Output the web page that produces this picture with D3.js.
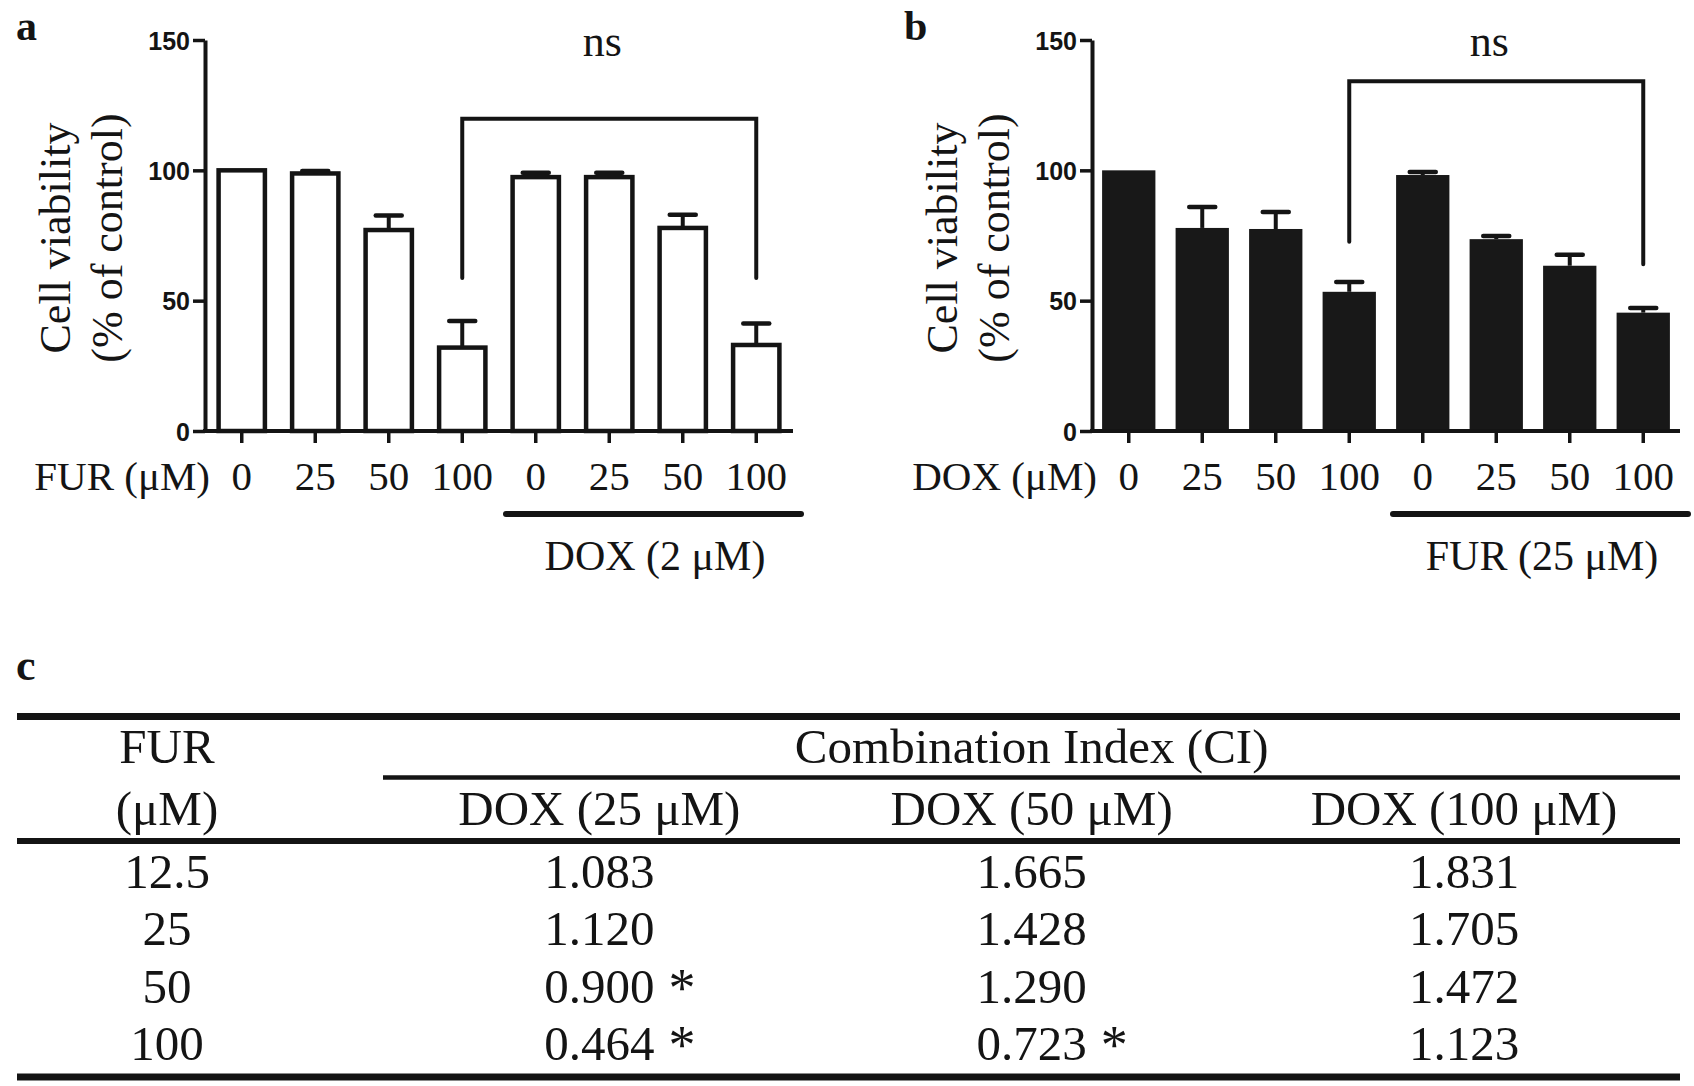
<!DOCTYPE html>
<html><head><meta charset="utf-8">
<script src="https://cdn.jsdelivr.net/npm/d3@7"></script>
<style>body{margin:0;background:#fff} svg{display:block}</style>
</head><body>
<svg id="chart" width="1694" height="1086"></svg>
<script>
// ---------- data ----------
const tickLabels = ["0", "25", "50", "100", "0", "25", "50", "100"];
const viabilityA = [100, 98.8, 77.1, 32.0, 97.4, 97.4, 77.9, 33.0];
const errorA     = [0, 0.9, 5.6, 10.2, 1.7, 1.7, 5.1, 8.2];
const viabilityB = [100, 77.9, 77.5, 53.4, 98.2, 73.6, 63.4, 45.4];
const errorB     = [0, 8.0, 6.5, 3.8, 1.2, 1.2, 4.2, 1.8];
const yTicks = [0, 50, 100, 150];
const bracketA = [3, 7, 119.8, 58.7, 58.7];   // from bar, to bar, top value, left leg end, right leg end
const bracketB = [3, 7, 134.2, 72.6, 64.0];

const tableColumns = ["FUR", "DOX25", "DOX50", "DOX100"];
const tableColumnHeads = ["", "DOX (25 μM)", "DOX (50 μM)", "DOX (100 μM)"];
const furConc = ["12.5", "25", "50", "100"];
const ciDox25  = ["1.083", "1.120", "0.900", "0.464"];
const ciDox50  = ["1.665", "1.428", "1.290", "0.723"];
const ciDox100 = ["1.831", "1.705", "1.472", "1.123"];
const sig25  = [false, false, true, true];
const sig50  = [false, false, false, true];
const sig100 = [false, false, false, false];

// ---------- drawing ----------
const svg = d3.select("#chart");
const INK = "#141414";
const SERIF = "'Liberation Serif','Times New Roman',serif";
const SANS = "'Liberation Sans',Arial,sans-serif";

const y = d3.scaleLinear().domain([0, 150]).range([431, 40]);

function panel(off, values, errors, filled, letter, xName, groupName, bracket) {
  const g = svg.append("g");
  const x = d3.scaleBand().domain(d3.range(values.length))
    .range([205 + off, 793 + off]).paddingInner(0.37).paddingOuter(0.185);
  const bw = x.bandwidth();

  // bars
  if (filled) {
    g.selectAll("rect.bar").data(values).join("rect").attr("class", "bar")
      .attr("x", (d, i) => x(i) - 3.5).attr("width", bw + 7)
      .attr("y", d => y(d)).attr("height", d => y(0) - y(d))
      .attr("fill", "#181818");
  } else {
    g.selectAll("rect.bar").data(values).join("rect").attr("class", "bar")
      .attr("x", (d, i) => x(i)).attr("width", bw)
      .attr("y", d => y(d)).attr("height", d => y(0) - y(d))
      .attr("fill", "#fff").attr("stroke", INK).attr("stroke-width", 4.5);
  }
  // error bars
  const eb = g.selectAll("g.err").data(values.map((v, i) => ({v, e: errors[i], i})).filter(d => d.e > 0))
    .join("g").attr("class", "err");
  eb.append("line")
    .attr("x1", d => x(d.i) + bw / 2).attr("x2", d => x(d.i) + bw / 2)
    .attr("y1", d => y(d.v)).attr("y2", d => y(d.v + d.e))
    .attr("stroke", INK).attr("stroke-width", 4);
  eb.append("line")
    .attr("x1", d => x(d.i) + bw / 2 - 13).attr("x2", d => x(d.i) + bw / 2 + 13)
    .attr("y1", d => y(d.v + d.e)).attr("y2", d => y(d.v + d.e))
    .attr("stroke", INK).attr("stroke-width", 4.5).attr("stroke-linecap", "round");

  // axes
  const ya = g.append("g").attr("transform", `translate(${205 + off},0)`)
    .call(d3.axisLeft(y).tickValues(yTicks).tickSize(12).tickSizeOuter(0).tickPadding(3));
  ya.select(".domain").attr("stroke", INK).attr("stroke-width", 4);
  ya.selectAll(".tick line").attr("stroke", INK).attr("stroke-width", 3.5);
  ya.selectAll(".tick text").attr("fill", INK).style("font-family", SANS)
    .style("font-weight", "bold").style("font-size", "25px").attr("dy", "0.36em");

  const xa = g.append("g").attr("transform", `translate(0,${y(0)})`)
    .call(d3.axisBottom(x).tickSize(12).tickSizeOuter(0).tickFormat(i => tickLabels[i]));
  xa.select(".domain").attr("stroke", INK).attr("stroke-width", 4)
    .attr("d", `M${205 + off - 2},0H${793 + off}`);
  xa.selectAll(".tick line").attr("stroke", INK).attr("stroke-width", 3.5);
  xa.selectAll(".tick text").attr("fill", INK)
    .attr("y", 59).attr("dy", 0)
    .style("font-family", SERIF).style("font-size", "41px");

  // x-axis name
  g.append("text").attr("x", 210 + off).attr("y", 490).attr("text-anchor", "end")
    .style("font-family", SERIF).style("font-size", "41px").attr("fill", INK).text(xName);

  // group underline + label
  g.append("line").attr("x1", 506 + off).attr("x2", 801 + off).attr("y1", 514).attr("y2", 514)
    .attr("stroke", INK).attr("stroke-width", 6).attr("stroke-linecap", "round");
  g.append("text").attr("x", 655 + off).attr("y", 570).attr("text-anchor", "middle")
    .style("font-family", SERIF).style("font-size", "42px").attr("fill", INK).text(groupName);

  // y title
  const yt = g.append("g").attr("transform", `translate(0,238) rotate(-90)`);
  yt.append("text").attr("x", 0).attr("y", 70 + off).attr("text-anchor", "middle")
    .style("font-family", SERIF).style("font-size", "44px").attr("fill", INK).text("Cell viability");
  yt.append("text").attr("x", 0).attr("y", 122 + off).attr("text-anchor", "middle")
    .style("font-family", SERIF).style("font-size", "44px").attr("fill", INK).text("(% of control)");

  // bracket
  const [b0, b1, bt, bl, br] = bracket;
  const xL = x(b0) + bw / 2, xR = x(b1) + bw / 2;
  g.append("path").attr("d", `M${xL},${y(bl)}V${y(bt)}H${xR}V${y(br)}`)
    .attr("fill", "none").attr("stroke", INK).attr("stroke-width", 4)
    .attr("stroke-linecap", "round").attr("stroke-linejoin", "miter");
  g.append("text").attr("x", (xL + xR) / 2 - 7).attr("y", 56).attr("text-anchor", "middle")
    .style("font-family", SERIF).style("font-size", "44px").attr("fill", INK).text("ns");

  // panel letter
  g.append("text").attr("x", 16 + (off ? 888 : 0)).attr("y", 40)
    .style("font-family", SERIF).style("font-weight", "bold").style("font-size", "42px")
    .attr("fill", INK).text(letter);
}

panel(0, viabilityA, errorA, false, "a", "FUR (μM)", "DOX (2 μM)", bracketA);
panel(887, viabilityB, errorB, true, "b", "DOX (μM)", "FUR (25 μM)", bracketB);

// ---------- table (c) ----------
const t = svg.append("g");
t.append("text").attr("x", 16).attr("y", 680)
  .style("font-family", SERIF).style("font-weight", "bold").style("font-size", "44px")
  .attr("fill", INK).text("c");

const cx = d3.scalePoint().domain(tableColumns).range([167, 1464]);
const ry = d3.scalePoint().domain(furConc).range([888, 1060]);
const tableFont = "49px";

function rule(x1, x2, yy, w) {
  t.append("line").attr("x1", x1).attr("x2", x2).attr("y1", yy).attr("y2", yy)
    .attr("stroke", INK).attr("stroke-width", w);
}
rule(17, 1680, 716.5, 7);
rule(383, 1680, 777.5, 4.5);
rule(17, 1680, 841, 6);
rule(17, 1680, 1077, 7);

function ttext(xx, yy, s) {
  return t.append("text").attr("x", xx).attr("y", yy).attr("text-anchor", "middle")
    .style("font-family", SERIF).style("font-size", tableFont).attr("fill", INK).text(s);
}
ttext(cx("FUR"), 763, "FUR");
ttext(cx("FUR"), 825, "(μM)");
ttext(cx("DOX50"), 763, "Combination Index (CI)");
tableColumns.slice(1).forEach((c, i) => ttext(cx(c), 825, tableColumnHeads[i + 1]));

const colData = [[ciDox25, sig25, "DOX25"], [ciDox50, sig50, "DOX50"], [ciDox100, sig100, "DOX100"]];
furConc.forEach((f, r) => {
  ttext(cx("FUR"), ry(f), f);
  colData.forEach(([vals, sig, key]) => {
    const node = ttext(cx(key), ry(f), vals[r]);
    if (sig[r]) {
      const w = node.node().getComputedTextLength();
      t.append("text").attr("x", cx(key) + w / 2 + 14).attr("y", ry(f) + 3)
        .style("font-family", SERIF).style("font-size", "54px")
        .attr("fill", INK).text("*");
    }
  });
});
</script>
</body></html>
